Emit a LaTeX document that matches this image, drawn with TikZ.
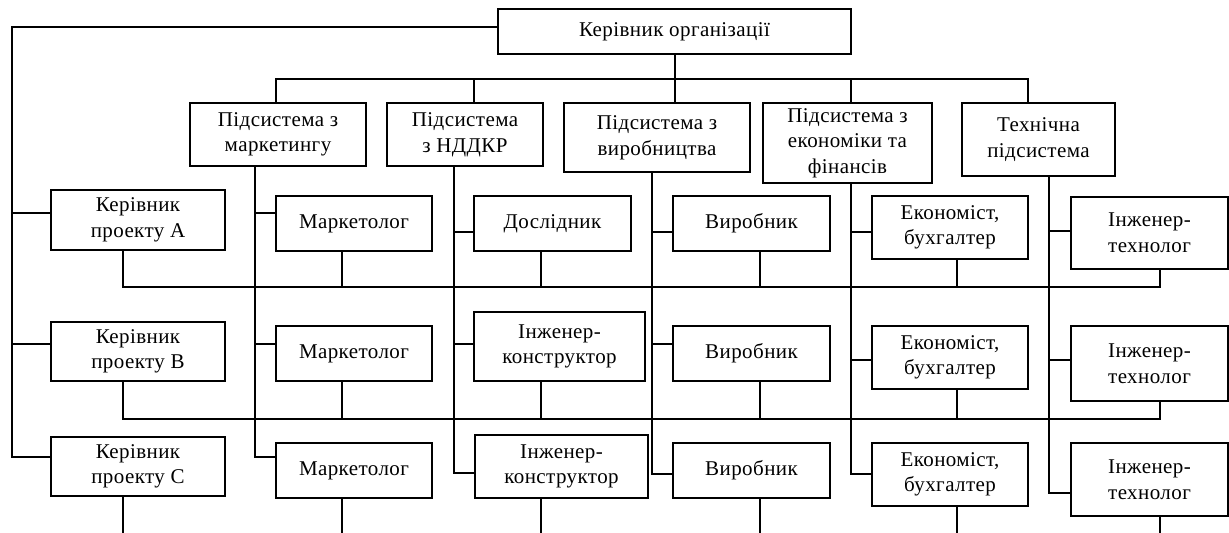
\documentclass[tikz,border=0pt]{standalone}
\usepackage{fontspec}
\setmainfont{Liberation Serif}[LetterSpace=2]

\tikzset{
  kbox/.style={draw, align=center, inner sep=0pt, font=\fontsize{10.5}{12.8}\selectfont},
  wh/.style 2 args={minimum width=#1*0.5pt, minimum height=#2*0.5pt}
}

\begin{document}
\begin{tikzpicture}[x=0.5pt, y=-0.5pt, line width=1pt]
    \useasboundingbox (0,0) rectangle (1229,533);

    % 顶层
    \node[kbox, wh={353}{45}] (top) at (674.5,31.5) {Керівник організації};

    % 子系统
    \node[kbox, wh={176}{63}] (sm) at (278,134.5) {Підсистема з\\маркетингу};
    \node[kbox, wh={156}{63}] (sn) at (465,134.5) {Підсистема\\з НДДКР};
    \node[kbox, wh={186}{69}] (sv) at (657,137.5) {Підсистема з\\виробництва};
    \node[kbox, wh={169}{80}] (se) at (847.5,143) {Підсистема з\\економіки та\\фінансів};
    \node[kbox, wh={153}{73}] (st) at (1038.5,139.5) {Технічна\\підсистема};

    % 项目负责人
    \node[kbox, wh={174}{60}] (pA) at (138,220) {Керівник\\проекту А};
    \node[kbox, wh={174}{59}] (pB) at (138,351.5) {Керівник\\проекту В};
    \node[kbox, wh={174}{59}] (pC) at (138,466.5) {Керівник\\проекту С};

    % 执行者
    \node[kbox, wh={156}{55}] (mA) at (354,223.5) {Маркетолог};
    \node[kbox, wh={156}{55}] (mB) at (354,353.5) {Маркетолог};
    \node[kbox, wh={156}{55}] (mC) at (354,470.5) {Маркетолог};

    \node[kbox, wh={157}{55}] (nA) at (552.5,223.5) {Дослідник};
    \node[kbox, wh={171}{69}] (nB) at (559.5,346.5) {Інженер-\\конструктор};
    \node[kbox, wh={173}{63}] (nC) at (561.5,466.5) {Інженер-\\конструктор};

    \node[kbox, wh={157}{55}] (vA) at (751.5,223.5) {Виробник};
    \node[kbox, wh={157}{55}] (vB) at (751.5,353.5) {Виробник};
    \node[kbox, wh={157}{55}] (vC) at (751.5,470.5) {Виробник};

    \node[kbox, wh={156}{63}] (eA) at (950,227.5) {Економіст,\\бухгалтер};
    \node[kbox, wh={156}{63}] (eB) at (950,357.5) {Економіст,\\бухгалтер};
    \node[kbox, wh={156}{63}] (eC) at (950,474.5) {Економіст,\\бухгалтер};

    \node[kbox, wh={157}{72}] (tA) at (1149.5,233) {Інженер-\\технолог};
    \node[kbox, wh={157}{75}] (tB) at (1149.5,363.5) {Інженер-\\технолог};
    \node[kbox, wh={157}{73}] (tC) at (1149.5,479.5) {Інженер-\\технолог};

    % 顶层连线
    \draw (top.south) -- (top.south |- sv.north);
    \draw (sm.north -| 276,0) |- (1028,79) -- (st.north -| 1028,0);
    \draw (sn.north -| 474,0) -- (474,79);
    \draw (se.north -| 851,0) -- (851,79);

    % 左侧线
    \draw ([yshift=2.25pt]top.west) -| (12,457) -- (pC.west |- 0,457);
    \draw (12,213) -- (pA.west |- 0,213);
    \draw (12,344) -- (pB.west |- 0,344);

    % 子系统竖线
    \draw (sm.south -| 255,0) |- (mC.west |- 0,457);
    \draw (255,213) -- (mA.west |- 0,213);
    \draw (255,344) -- (mB.west |- 0,344);

    \draw (sn.south -| 454,0) |- (nC.west |- 0,473);
    \draw (454,232) -- (nA.west |- 0,232);
    \draw (454,344) -- (nB.west |- 0,344);

    \draw (sv.south -| 652,0) |- (vC.west |- 0,474);
    \draw (652,232) -- (vA.west |- 0,232);
    \draw (652,344) -- (vB.west |- 0,344);

    \draw (se.south -| 851,0) |- (eC.west |- 0,474);
    \draw (851,232) -- (eA.west |- 0,232);
    \draw (851,360) -- (eB.west |- 0,360);

    \draw (st.south -| 1049,0) |- (tC.west |- 0,493);
    \draw (1049,231) -- (tA.west |- 0,231);
    \draw (1049,360) -- (tB.west |- 0,360);

    % 项目 A 横线
    \draw (pA.south -| 123,0) |- (1160,287) -- (tA.south -| 1160,0);
    \draw (mA.south -| 342,0) -- (342,287);
    \draw (nA.south -| 541,0) -- (541,287);
    \draw (vA.south -| 760,0) -- (760,287);
    \draw (eA.south -| 957,0) -- (957,287);

    % 项目 B 横线
    \draw (pB.south -| 123,0) |- (1160,419) -- (tB.south -| 1160,0);
    \draw (mB.south -| 342,0) -- (342,419);
    \draw (nB.south -| 541,0) -- (541,419);
    \draw (vB.south -| 760,0) -- (760,419);
    \draw (eB.south -| 957,0) -- (957,419);

    % 项目 C 下端
    \draw (pC.south -| 123,0) -- (123,533);
    \draw (mC.south -| 342,0) -- (342,533);
    \draw (nC.south -| 541,0) -- (541,533);
    \draw (vC.south -| 760,0) -- (760,533);
    \draw (eC.south -| 957,0) -- (957,533);
    \draw (tC.south -| 1160,0) -- (1160,533);
\end{tikzpicture}
\end{document}
